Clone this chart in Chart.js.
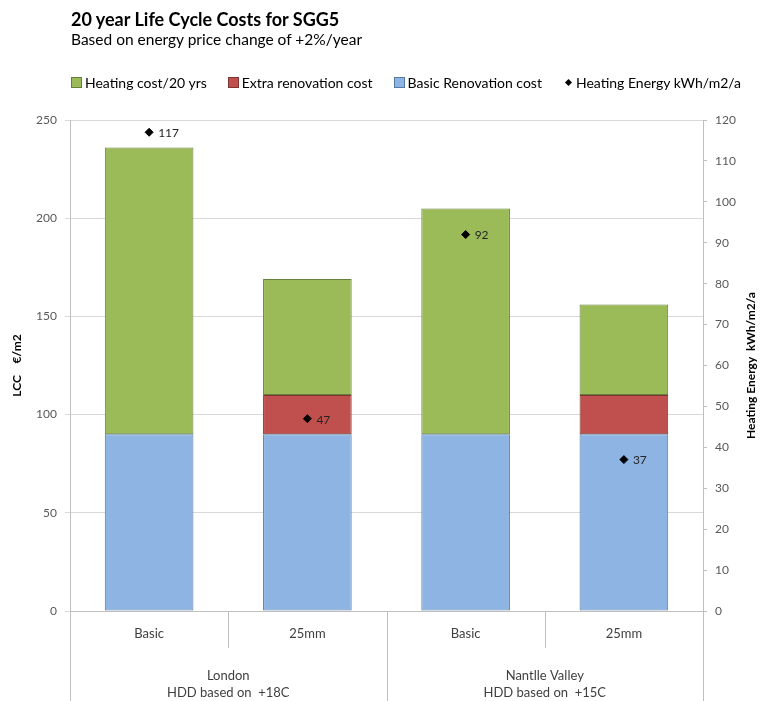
<!DOCTYPE html>
<html lang="en">
<head>
<meta charset="UTF-8">
<title>20 year Life Cycle Costs for SGG5</title>
<script src="https://cdn.jsdelivr.net/npm/chart.js"></script>
<style>
    body { margin: 0; background: #fff; font-family: Lato, sans-serif; }
    #wrap { position: relative; width: 762px; height: 701px; }
    #title { position: absolute; left: 71px; top: 8px; font-size: 18px; font-weight: bold; line-height: 22px; color: #000; white-space: nowrap; }
    #subtitle { position: absolute; left: 71px; top: 30px; font-size: 15.5px; line-height: 18px; color: #000; white-space: nowrap; }
    #legend { position: absolute; left: 71px; top: 74px; height: 16px; display: flex; align-items: center; font-size: 14px; color: #000; white-space: nowrap; }
    .item { display: flex; align-items: center; margin-right: 21px; }
    .box { width: 9px; height: 9px; margin-right: 3px; border: 1px solid; }
    .diamond { width: 5px; height: 5px; background: #000; transform: rotate(45deg); margin: 0 5px 0 3px; }
    canvas { position: absolute; left: 0; top: 0; }
</style>
</head>
<body>
<div id="wrap">
    <canvas id="lccChart" width="762" height="701"></canvas>
    <div id="title">20 year Life Cycle Costs for SGG5</div>
    <div id="subtitle">Based on energy price change of +2%/year</div>
    <div id="legend"></div>
</div>

<script>
// categories (two levels)
var categories = ['Basic', '25mm', 'Basic', '25mm'];
var groups = [['London', 'HDD based on  +18C'], ['Nantlle Valley', 'HDD based on  +15C']];

// LCC €/m2, stacked
var basicRenovation = [90, 90, 90, 90];
var extraRenovation = [0, 20, 0, 20];
var heatingCost = [146, 59, 115, 46];

// kWh/m2/a, right axis
var heatingEnergy = [117, 47, 92, 37];

var names = {
    heating: 'Heating cost/20 yrs',
    extra: 'Extra renovation cost',
    basic: 'Basic Renovation cost',
    energy: 'Heating Energy kWh/m2/a'
};
var rightTitle = 'Heating Energy  kWh/m2/a';

var colors = {
    heating: ['#9BBB59', '#64803A'],
    extra: ['#C0504D', '#7F3432'],
    basic: ['#8EB4E3', '#56799F']
};

// html legend, same order as the original
var legend = document.getElementById('legend');
['heating', 'extra', 'basic'].forEach(function (k) {
    var it = document.createElement('span');
    it.className = 'item';
    it.innerHTML = '<span class="box" style="background:' + colors[k][0] + ';border-color:' + colors[k][1] + '"></span>' + names[k];
    legend.appendChild(it);
});
var en = document.createElement('span');
en.className = 'item';
en.innerHTML = '<span class="diamond"></span>' + names.energy;
legend.appendChild(en);

var axisGray = '#bfbfbf';
var gridGray = '#d9d9d9';

// lines between the category labels under the plot
var separators = {
    id: 'separators',
    afterDraw: function (chart) {
        var xs = chart.scales.x;
        var ctx = chart.ctx;
        var n = categories.length;
        var perGroup = n / groups.length;
        var step = xs.width / n;
        ctx.save();
        ctx.strokeStyle = axisGray;
        ctx.lineWidth = 1;
        for (var i = 0; i <= n; i++) {
            var px = Math.round(xs.left + i * step) + 0.5;
            var end = (i % perGroup === 0) ? chart.height : xs.bottom;
            ctx.beginPath();
            ctx.moveTo(px, xs.top);
            ctx.lineTo(px, end);
            ctx.stroke();
        }
        ctx.restore();
    }
};

// right axis title reads bottom to top, like the left one
var rightAxisTitle = {
    id: 'rightAxisTitle',
    afterDraw: function (chart) {
        var ctx = chart.ctx;
        var ca = chart.chartArea;
        ctx.save();
        ctx.translate(chart.width - 11, (ca.top + ca.bottom) / 2);
        ctx.rotate(-Math.PI / 2);
        ctx.font = 'bold 12px Lato';
        ctx.fillStyle = '#000';
        ctx.textAlign = 'center';
        ctx.textBaseline = 'middle';
        ctx.fillText(rightTitle, 0, 0);
        ctx.restore();
    }
};

// value labels next to the diamonds
var pointLabels = {
    id: 'pointLabels',
    afterDatasetsDraw: function (chart) {
        var ctx = chart.ctx;
        var meta = chart.getDatasetMeta(3);
        ctx.save();
        ctx.font = '12px Lato';
        ctx.fillStyle = '#262626';
        ctx.textBaseline = 'middle';
        ctx.textAlign = 'left';
        meta.data.forEach(function (pt, i) {
            ctx.fillText(String(heatingEnergy[i]), pt.x + 9, pt.y + 1);
        });
        ctx.restore();
    }
};

var ctx = document.getElementById('lccChart').getContext('2d');
var chart = new Chart(ctx, {
    type: 'bar',
    data: {
        labels: categories,
        datasets: [{
            label: names.basic,
            data: basicRenovation,
            backgroundColor: colors.basic[0],
            borderColor: colors.basic[1],
            borderWidth: 1,
            borderSkipped: false,
            order: 2
        }, {
            label: names.extra,
            data: extraRenovation,
            backgroundColor: colors.extra[0],
            borderColor: colors.extra[1],
            borderWidth: 1,
            borderSkipped: false,
            order: 2
        }, {
            label: names.heating,
            data: heatingCost,
            backgroundColor: colors.heating[0],
            borderColor: colors.heating[1],
            borderWidth: 1,
            borderSkipped: false,
            order: 2
        }, {
            type: 'line',
            label: names.energy,
            data: heatingEnergy,
            yAxisID: 'y1',
            showLine: false,
            pointStyle: 'rectRot',
            pointRadius: 4,
            backgroundColor: '#000',
            borderColor: '#000',
            order: 1
        }]
    },
    options: {
        responsive: false,
        animation: false,
        layout: { padding: { top: 120, left: 0, right: 0, bottom: 0 } },
        plugins: {
            legend: { display: false },
            tooltip: { enabled: false }
        },
        datasets: {
            bar: { categoryPercentage: 1, barPercentage: 0.56 }
        },
        scales: {
            x: {
                stacked: true,
                weight: 0,
                grid: { drawOnChartArea: false, drawTicks: false },
                border: { display: true, color: axisGray },
                ticks: { padding: 15, color: '#404040', font: { family: 'Lato', size: 13 } },
                afterFit: function (s) { s.height = 37; }
            },
            x2: {
                type: 'category',
                position: 'bottom',
                labels: groups,
                offset: true,
                weight: 1,
                grid: { display: false },
                border: { display: false },
                ticks: { padding: 11, color: '#404040', font: { family: 'Lato', size: 13, lineHeight: 1.3 } },
                afterFit: function (s) { s.height = 53; }
            },
            y: {
                stacked: true,
                min: 0,
                max: 250,
                ticks: { stepSize: 50, padding: 8, color: '#595959', font: { family: 'Lato', size: 12 } },
                grid: { color: gridGray, tickLength: 5 },
                border: { color: axisGray },
                title: {
                    display: true,
                    text: 'LCC    €/m2',
                    color: '#000',
                    font: { family: 'Lato', size: 12, weight: 'bold' },
                    padding: { top: 10, bottom: 0 }
                },
                afterFit: function (s) { s.width = 70; }
            },
            y1: {
                position: 'right',
                min: 0,
                max: 120,
                ticks: { stepSize: 10, padding: 8, color: '#595959', font: { family: 'Lato', size: 12 } },
                grid: { drawOnChartArea: false, color: axisGray, tickLength: 4 },
                border: { color: axisGray },
                afterFit: function (s) { s.width = 59; }
            }
        }
    },
    plugins: [separators, rightAxisTitle, pointLabels]
});
</script>
</body>
</html>
